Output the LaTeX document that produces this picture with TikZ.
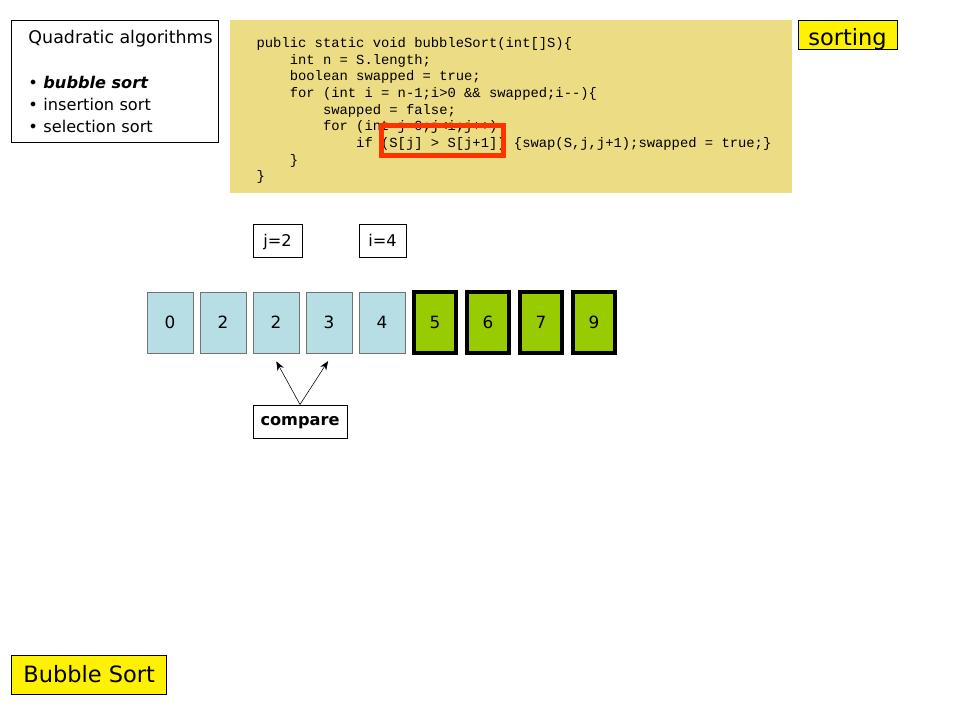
\documentclass[tikz,border=0pt]{standalone}
\usepackage{fontspec}
\setmainfont{DejaVu Sans}
\setmonofont{Liberation Mono}
\usepackage{xcolor}
\usetikzlibrary{arrows.meta}
\definecolor{codebg}{RGB}{236,220,132}
\definecolor{cellblue}{RGB}{183,222,228}
\definecolor{cellgreen}{RGB}{153,204,0}
\definecolor{hilite}{RGB}{255,51,0}
\newlength{\pu}
\setlength{\pu}{0.025cm}

\begin{document}
\begin{tikzpicture}[x=0.025cm, y=-0.025cm,
	cell/.style={fill=cellblue, draw=black!55, line width=0.7pt, minimum width=46\pu, minimum height=61\pu, inner sep=0pt, font=\fontsize{12}{14}\selectfont},
	donecell/.style={fill=cellgreen, draw=black, line width=4\pu, minimum width=42\pu, minimum height=61\pu, inner sep=0pt, font=\fontsize{12}{14}\selectfont},
	tag/.style={fill=white, draw=black, line width=0.7pt, minimum height=33\pu, inner sep=0pt, text height=8.4pt, text depth=0pt, font=\fontsize{11.5}{14}\selectfont},
	titlebox/.style={fill=yellow, draw=black, line width=0.7pt, inner sep=0pt, text depth=0pt, font=\fontsize{16}{19}\selectfont}]
	\useasboundingbox (0,0) rectangle (960,720);
	% code and the test that is looked at
	\node [fill=codebg, minimum width=562\pu, minimum height=173\pu, inner sep=0pt] (codebox) at (511,106.5) {};
	\node [inner sep=0pt, align=left, font=\ttfamily\fontsize{9.84}{11.86}\selectfont] (code) at ([shift={(3,4)}]codebox.center) {public static void bubbleSort(int[]S)\{\\
		\hspace*{2.4em}int n = S.length;\\
		\hspace*{2.4em}boolean swapped = true;\\
		\hspace*{2.4em}for (int i = n-1;i>0 \&\& swapped;i-{}-)\{\\
		\hspace*{4.8em}swapped = false;\\
		\hspace*{4.8em}for (int j=0;j<i;j++)\\
		\hspace*{7.2em}if (S[j] > S[j+1]) \{swap(S,j,j+1);swapped = true;\}\\
		\hspace*{2.4em}\}\\
		\}};
	\node [draw=hilite, line width=5\pu, minimum width=122\pu, minimum height=30\pu, inner sep=0pt] (cond) at (442.5,140.5) {};
	% boxes round the page
	\node [draw=black, line width=0.7pt, anchor=north west, minimum height=122\pu, inner xsep=17\pu, text width=173\pu, align=left, font=\fontsize{11.5}{15.6}\selectfont] (algs) at (11,20) {\mbox{\fontsize{12.4}{15.6}\selectfont Quadratic algorithms}\\[17pt]
		\textbullet{} \textbf{\textit{bubble sort}}\\
		\textbullet{} insertion sort\\
		\textbullet{} selection sort};
	\node [titlebox, minimum width=99\pu, minimum height=29\pu, text height=15.2pt] (topic) at (847.5,34.5) {sorting};
	\node [titlebox, minimum width=155\pu, minimum height=39\pu, text height=11.7pt] (title) at (89.2,674.5) {Bubble Sort};
	% the array
	\foreach \v [count=\k] in {0,2,2,3,4}
		\node [cell] (c\k) at ({170+53*(\k-1)},322.5) {\v};
	\foreach \v [count=\k from 6] in {5,6,7,9}
		\node [donecell] (c\k) at ({170+53*(\k-1)},322.5) {\v};
	\node [tag, minimum width=49\pu] (j) at (277.5,240.5) {j=2};
	\node [tag, minimum width=47\pu] (i) at (382.5,240.5) {i=4};
	\node [tag, minimum width=94\pu, text height=6.3pt, font=\bfseries\fontsize{11.5}{14}\selectfont] (cmp) at (300,421.5) {compare};
	\draw [fill=none, -{Stealth[length=0.225cm, width=0.175cm]}, shorten >=0.225cm] (cmp.north) to ([xshift=-0.1cm]c3.south);
	\draw [fill=none, -{Stealth[length=0.225cm, width=0.175cm]}, shorten >=0.225cm] (cmp.north) to ([xshift=0.1cm]c4.south);
\end{tikzpicture}
\end{document}
